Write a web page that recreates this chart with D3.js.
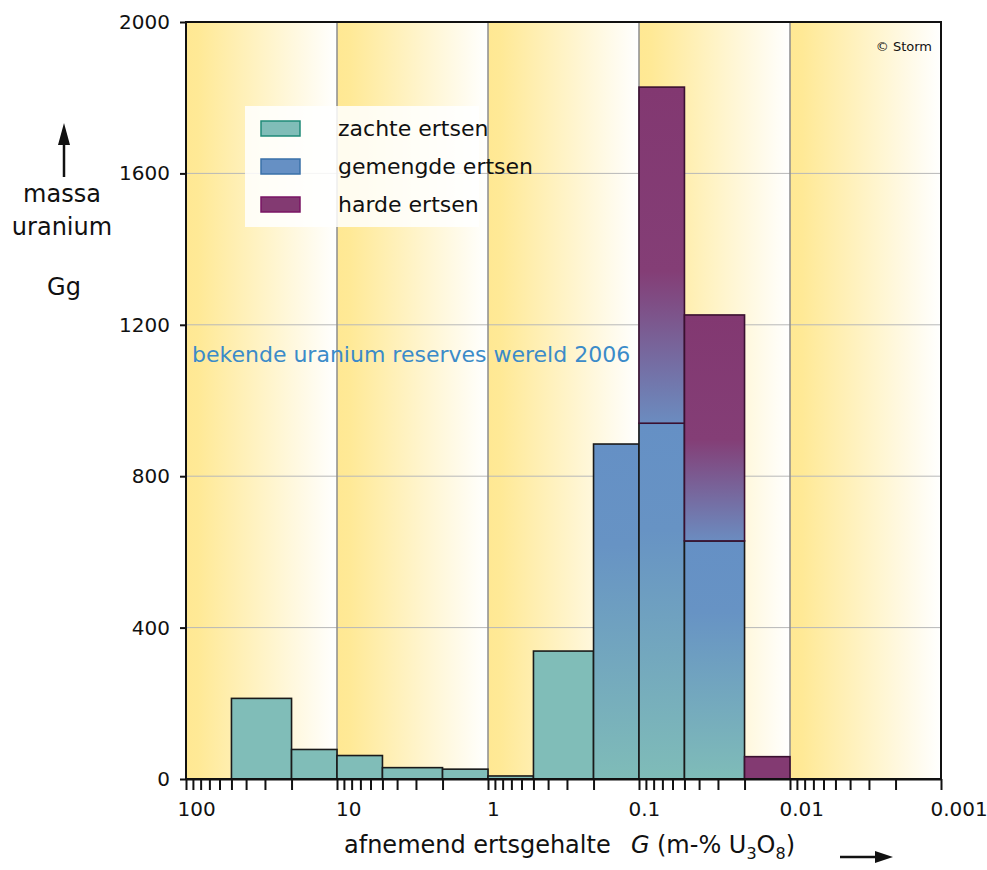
<!DOCTYPE html>
<html>
<head>
<meta charset="utf-8">
<script src="https://cdn.jsdelivr.net/npm/d3@7"></script>
<style>
  html, body { margin: 0; padding: 0; background: #ffffff; }
  svg { display: block; }
  text { font-family: 'DejaVu Sans', sans-serif; }
</style>
</head>
<body>
<svg id="chart" width="987" height="870"></svg>
<script>
// ---------- DATA ----------
const binHigh = [50, 20, 10, 5, 2, 1, 0.5, 0.2, 0.1, 0.05, 0.02];   // ore grade, m-% U3O8 (upper edge)
const binLow  = [20, 10, 5, 2, 1, 0.5, 0.2, 0.1, 0.05, 0.02, 0.01]; // lower edge
const zachteErtsen   = [213, 78, 62, 30, 26, 8, 338, 0, 0, 0, 0];
const gemengdeErtsen = [0, 0, 0, 0, 0, 0, 0, 885, 940, 629, 0];
const hardeErtsen    = [0, 0, 0, 0, 0, 0, 0, 0, 888, 597, 59];
const seriesNames = ["zachte ertsen", "gemengde ertsen", "harde ertsen"];
const yTickValues = [0, 400, 800, 1200, 1600, 2000];
const decadeValues = [100, 10, 1, 0.1, 0.01, 0.001];
const xDomain = [100, 0.001];
const yDomain = [0, 2000];

// ---------- LAYOUT ----------
const svg = d3.select("#chart");
const L = 186, R = 941, T = 22, B = 779;
const x = d3.scaleLog().domain(xDomain).range([L, R]);
const y = d3.scaleLinear().domain(yDomain).range([B, T]);

const defs = svg.append("defs");
const band = defs.append("linearGradient").attr("id", "band")
  .attr("x1", 0).attr("x2", 1).attr("y1", 0).attr("y2", 0);
band.append("stop").attr("offset", 0).attr("stop-color", "#ffe893");
band.append("stop").attr("offset", 0.08).attr("stop-color", "#ffe996");
band.append("stop").attr("offset", 1).attr("stop-color", "#ffffff");

const gGrad = defs.append("linearGradient").attr("id", "gemengd")
  .attr("x1", 0).attr("x2", 0).attr("y1", 0).attr("y2", 1);
gGrad.append("stop").attr("offset", 0).attr("stop-color", "#6590c5");
gGrad.append("stop").attr("offset", 0.3).attr("stop-color", "#6793c4");
gGrad.append("stop").attr("offset", 1).attr("stop-color", "#7fbcb8");

const hGrad = defs.append("linearGradient").attr("id", "hard")
  .attr("x1", 0).attr("x2", 0).attr("y1", 0).attr("y2", 1);
hGrad.append("stop").attr("offset", 0).attr("stop-color", "#823871");
hGrad.append("stop").attr("offset", 0.55).attr("stop-color", "#843e76");
hGrad.append("stop").attr("offset", 1).attr("stop-color", "#6b8cc0");

const solidColors = ["#80bdb8", "#6690c4", "#833a72"];
const gradFills = ["#80bdb8", "url(#gemengd)", "url(#hard)"];
const strokes = ["#1a1a1a", "#1a1a1a", "#3a1030"];
const swatchStroke = ["#1f8a78", "#3a70a8", "#7a1464"];

// background decade bands
const decades = d3.pairs(decadeValues);
svg.append("g").selectAll("rect").data(decades).join("rect")
  .attr("x", d => x(d[0])).attr("width", d => x(d[1]) - x(d[0]))
  .attr("y", T).attr("height", B - T)
  .attr("fill", "url(#band)");

// horizontal grid
svg.append("g").selectAll("line").data(yTickValues.filter(v => v > 0 && v < 2000)).join("line")
  .attr("x1", L).attr("x2", R).attr("y1", d => y(d)).attr("y2", d => y(d))
  .attr("stroke", "#b8b8b8").attr("stroke-width", 1);

// vertical decade lines
svg.append("g").selectAll("line").data(decadeValues.slice(1, -1)).join("line")
  .attr("x1", d => x(d)).attr("x2", d => x(d)).attr("y1", T).attr("y2", B)
  .attr("stroke", "#8c8c8c").attr("stroke-width", 1.5);

// legend box
svg.append("rect").attr("x", 245).attr("y", 106).attr("width", 234).attr("height", 121)
  .attr("fill", "#ffffff").attr("fill-opacity", 0.85);

// bars
const rows = binHigh.map((h, i) => ({
  hi: h, lo: binLow[i], z: zachteErtsen[i], g: gemengdeErtsen[i], h: hardeErtsen[i]
}));
const stack = d3.stack().keys(["z", "g", "h"]);
const stacked = stack(rows);
const barG = svg.append("g");
stacked.forEach((layer, k) => {
  barG.append("g").selectAll("rect")
    .data(layer.filter(d => d[1] - d[0] > 0))
    .join("rect")
    .attr("x", d => x(d.data.hi))
    .attr("width", d => x(d.data.lo) - x(d.data.hi))
    .attr("y", d => y(d[1]))
    .attr("height", d => y(d[0]) - y(d[1]))
    .attr("fill", d => (k === 2 && d[0] === 0) ? solidColors[2] : gradFills[k])
    .attr("stroke", strokes[k])
    .attr("stroke-width", 1.6);
});

// frame
svg.append("rect").attr("x", L).attr("y", T).attr("width", R - L).attr("height", B - T)
  .attr("fill", "none").attr("stroke", "#111").attr("stroke-width", 2);

// y axis
const yAxis = svg.append("g").attr("transform", `translate(${L},0)`)
  .call(d3.axisLeft(y).tickValues(yTickValues).tickFormat(d3.format("d"))
    .tickSize(6).tickPadding(10).tickSizeOuter(0));
yAxis.select(".domain").remove();
yAxis.selectAll("line").attr("stroke", "#111").attr("stroke-width", 2);
yAxis.selectAll("text").attr("font-size", 20).attr("fill", "#111")
  .style("font-family", "'DejaVu Sans', sans-serif");

// x axis
const isDecade = d => Math.abs(Math.log10(d) - Math.round(Math.log10(d))) < 1e-6;
const fmtDecade = d => String(+d.toPrecision(1));
const xAxis = svg.append("g").attr("transform", `translate(0,${B})`)
  .call(d3.axisBottom(x).tickValues(x.ticks()).tickSize(11).tickPadding(12).tickSizeOuter(0)
    .tickFormat(d => isDecade(d) ? fmtDecade(d) : ""));
xAxis.select(".domain").attr("stroke", "#111").attr("stroke-width", 2);
xAxis.selectAll("line").attr("stroke", "#111").attr("stroke-width", 2);
xAxis.selectAll("text").attr("font-size", 20).attr("fill", "#111")
  .style("font-family", "'DejaVu Sans', sans-serif")
  .attr("text-anchor", "start")
  .attr("dx", d => d >= 100 ? -9 : (d >= 1 ? -1.5 : -11));

// y axis title
const yt = svg.append("g").attr("fill", "#111").attr("font-size", 24).attr("text-anchor", "middle");
yt.append("text").attr("x", 62).attr("y", 202).text("massa");
yt.append("text").attr("x", 62).attr("y", 235).text("uranium");
yt.append("text").attr("x", 64).attr("y", 295).text("Gg");
svg.append("line").attr("x1", 64).attr("x2", 64).attr("y1", 177).attr("y2", 140)
  .attr("stroke", "#111").attr("stroke-width", 2.5);
svg.append("path").attr("d", "M64,123 L58,145 L70,145 Z").attr("fill", "#111");

// x axis title
const xt = svg.append("text").attr("y", 853).attr("font-size", 24).attr("fill", "#111");
xt.append("tspan").attr("x", 344).text("afnemend ertsgehalte");
xt.append("tspan").attr("x", 631).attr("font-style", "italic").text("G");
xt.append("tspan").attr("x", 657).text("(m-% U");
xt.append("tspan").attr("font-size", 16).attr("dy", 6).text("3");
xt.append("tspan").attr("dy", -6).text("O");
xt.append("tspan").attr("font-size", 16).attr("dy", 6).text("8");
xt.append("tspan").attr("dy", -6).text(")");
svg.append("line").attr("x1", 840).attr("x2", 880).attr("y1", 857).attr("y2", 857)
  .attr("stroke", "#111").attr("stroke-width", 2.5);
svg.append("path").attr("d", "M893,857 L875,851 L875,863 Z").attr("fill", "#111");

// legend
const lg = svg.append("g");
seriesNames.forEach((name, i) => {
  const sy = 121 + i * 38;
  lg.append("rect").attr("x", 261).attr("y", sy).attr("width", 39).attr("height", 15)
    .attr("fill", solidColors[i]).attr("stroke", swatchStroke[i]).attr("stroke-width", 1.5);
  lg.append("text").attr("x", 338).attr("y", sy + 15).attr("font-size", 22)
    .attr("fill", "#111").text(name);
});

// annotations
svg.append("text").attr("x", 192).attr("y", 362).attr("font-size", 22)
  .attr("fill", "#3b8bc9").text("bekende uranium reserves wereld 2006");
svg.append("text").attr("x", 932).attr("y", 51).attr("font-size", 13)
  .attr("text-anchor", "end").attr("fill", "#111").text("© Storm");
</script>
</body>
</html>
